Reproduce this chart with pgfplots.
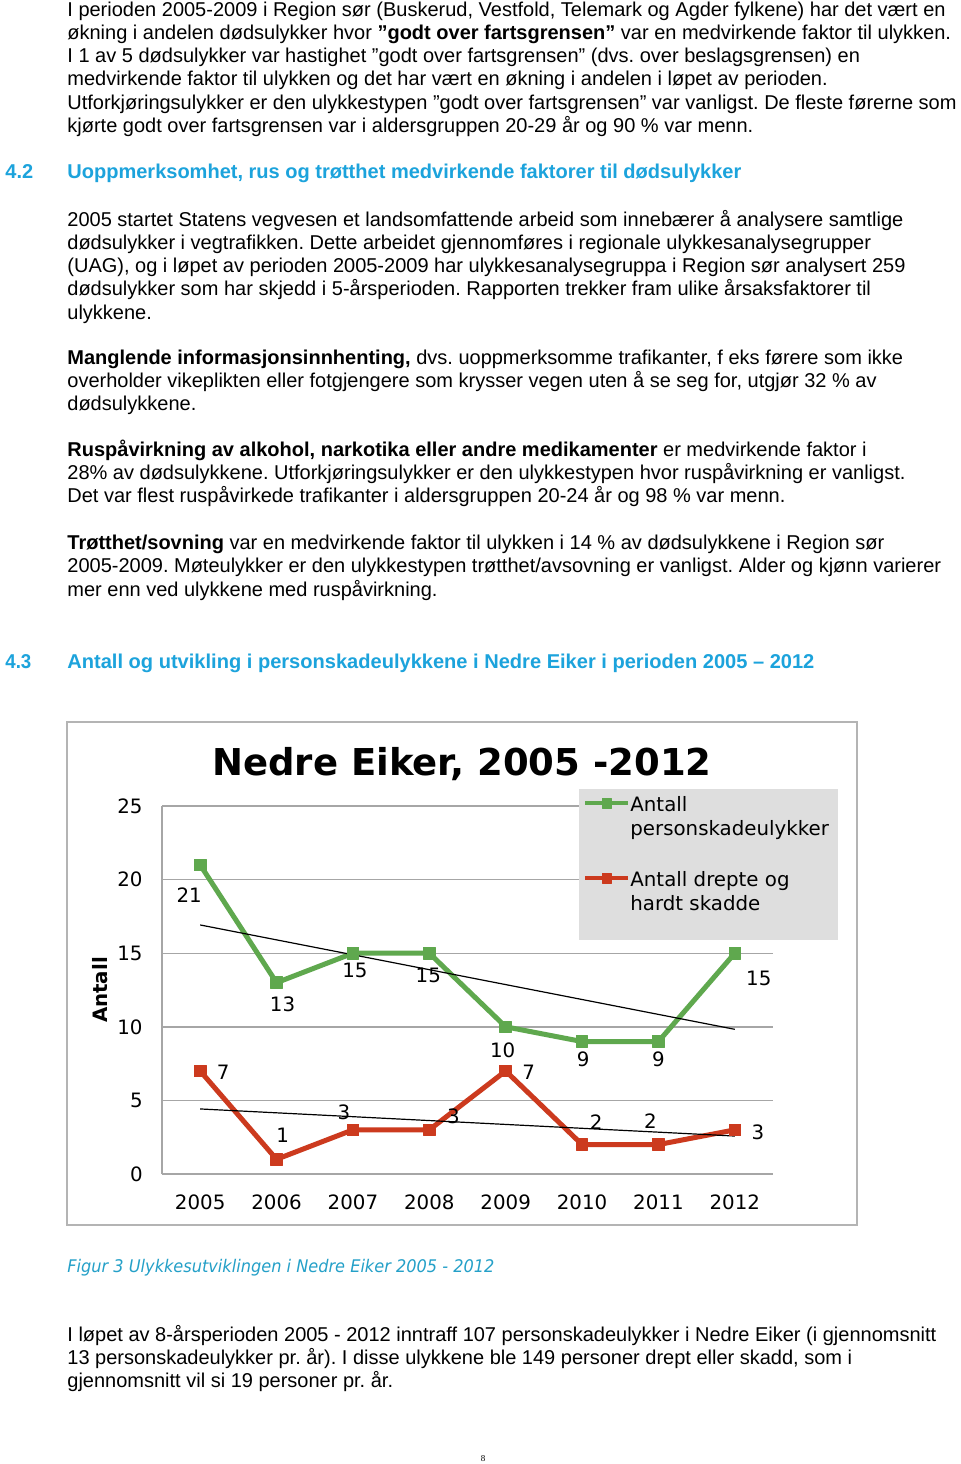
\documentclass[border=0pt]{standalone}
\usepackage{pgfplots}
\pgfplotsset{compat=1.18}
\usepackage{fontspec}
\usepackage{graphicx}
\setmainfont{Liberation Sans}
\newfontfamily\chartfont{DejaVu Sans}
\newfontfamily\serifnum{Liberation Serif}
\definecolor{headcyan}{RGB}{28,163,220}
\definecolor{capcyan}{RGB}{36,160,200}
\definecolor{sgreen}{RGB}{95,168,78}
\definecolor{sred}{RGB}{204,58,30}
\definecolor{gridgray}{RGB}{166,166,166}
\definecolor{framegray}{RGB}{180,180,180}
\definecolor{leggray}{RGB}{222,222,222}
\frenchspacing
\begin{document}
\begin{tikzpicture}
\begin{scope}[x=0.5pt,y=-0.5pt, every node/.style={inner sep=0pt, anchor=base west, font=\fontsize{10}{12}\selectfont}]
\fill[white] (0,0) rectangle (960,1464);
\node at (67,16) {I perioden 2005-2009 i Region sør (Buskerud, Vestfold, Telemark og Agder fylkene) har det vært en};
\node at (67,39.3) {økning i andelen dødsulykker hvor \textbf{”godt over fartsgrensen”} var en medvirkende faktor til ulykken.};
\node at (67,62.6) {I 1 av 5 dødsulykker var hastighet ”godt over fartsgrensen” (dvs. over beslagsgrensen) en};
\node at (67,85.9) {medvirkende faktor til ulykken og det har vært en økning i andelen i løpet av perioden.};
\node at (67,109.2) {Utforkjøringsulykker er den ulykkestypen ”godt over fartsgrensen” var vanligst. De fleste førerne som};
\node at (67,132.5) {kjørte godt over fartsgrensen var i aldersgruppen 20-29 år og 90 \% var menn.};
\node[text=headcyan] at (5,178) {\bfseries 4.2};
\node[text=headcyan] at (67,178) {\resizebox{337pt}{\height}{\bfseries Uoppmerksomhet, rus og trøtthet medvirkende faktorer til dødsulykker}};
\node at (67,226) {2005 startet Statens vegvesen et landsomfattende arbeid som innebærer å analysere samtlige};
\node at (67,249.3) {dødsulykker i vegtrafikken. Dette arbeidet gjennomføres i regionale ulykkesanalysegrupper};
\node at (67,272.6) {(UAG), og i løpet av perioden 2005-2009 har ulykkesanalysegruppa i Region sør analysert 259};
\node at (67,295.9) {dødsulykker som har skjedd i 5-årsperioden. Rapporten trekker fram ulike årsaksfaktorer til};
\node at (67,319.2) {ulykkene.};
\node at (67,364) {\textbf{Manglende informasjonsinnhenting,} dvs. uoppmerksomme trafikanter, f eks førere som ikke};
\node at (67,387.3) {overholder vikeplikten eller fotgjengere som krysser vegen uten å se seg for, utgjør 32 \% av};
\node at (67,410.6) {dødsulykkene.};
\node at (67,456) {\textbf{Ruspåvirkning av alkohol, narkotika eller andre medikamenter} er medvirkende faktor i};
\node at (67,479.3) {28\% av dødsulykkene. Utforkjøringsulykker er den ulykkestypen hvor ruspåvirkning er vanligst.};
\node at (67,502.6) {Det var flest ruspåvirkede trafikanter i aldersgruppen 20-24 år og 98 \% var menn.};
\node at (67,549) {\textbf{Trøtthet/sovning} var en medvirkende faktor til ulykken i 14 \% av dødsulykkene i Region sør};
\node at (67,572.6) {2005-2009. Møteulykker er den ulykkestypen trøtthet/avsovning er vanligst. Alder og kjønn varierer};
\node at (67,596) {mer enn ved ulykkene med ruspåvirkning.};
\node[text=headcyan] at (5,668) {\resizebox{13pt}{\height}{\bfseries 4.3}};
\node[text=headcyan] at (67,668) {\resizebox{373.5pt}{\height}{\bfseries Antall og utvikling i personskadeulykkene i Nedre Eiker i perioden 2005 – 2012}};
\node[text=capcyan] at (67,1272.5) {\resizebox{213.5pt}{\height}{\chartfont\itshape\fontsize{8.7}{10}\selectfont Figur 3 Ulykkesutviklingen i Nedre Eiker 2005 - 2012}};
\node at (67,1341) {I løpet av 8-årsperioden 2005 - 2012 inntraff 107 personskadeulykker i Nedre Eiker (i gjennomsnitt};
\node at (67,1364.3) {13 personskadeulykker pr. år). I disse ulykkene ble 149 personer drept eller skadd, som i};
\node at (67,1387.6) {gjennomsnitt vil si 19 personer pr. år.};
\node[anchor=base] at (483,1461) {\serifnum\fontsize{4.5}{5}\selectfont 8};
\draw[framegray, line width=1pt] (67,722) rectangle (857,1225);
\coordinate (org) at (162,1174);
\end{scope}
\begin{axis}[
  at={(org)}, anchor=south west, scale only axis,
  width=305.5pt, height=184pt,
  xmin=-0.5, xmax=7.5, ymin=0, ymax=25,
  xtick={0,1,2,3,4,5,6,7},
  xticklabels={2005,2006,2007,2008,2009,2010,2011,2012},
  ytick={0,5,10,15,20,25},
  axis x line=bottom, axis y line=left,
  axis line style={-, draw=gridgray, line width=0.7pt},
  ymajorgrids, grid style={draw=gridgray, line width=0.7pt},
  major tick length=0pt,
  /pgf/number format/assume math mode=true,
  tick label style={font=\chartfont\fontsize{9.9}{12}\selectfont},
  yticklabel style={anchor=east, inner sep=0pt, xshift=-9.5pt},
  xticklabel style={anchor=north, inner sep=0pt, yshift=-10pt},
  ylabel={Antall},
  every axis y label/.style={at={(axis description cs:-0.1015,0.5)}, rotate=90, anchor=center, font=\chartfont\bfseries\fontsize{9.9}{12}\selectfont},
  title={Nedre Eiker, 2005 -2012},
  title style={at={(axis description cs:0.491,1)}, anchor=base, yshift=9.5pt, font=\chartfont\bfseries\fontsize{18.5}{22}\selectfont},
  legend image code/.code={\draw[#1, line width=2pt, mark size=2.4pt, mark repeat=2, mark phase=2] plot coordinates {(0pt,4pt) (10.75pt,4pt) (21.5pt,4pt)};},
  legend style={at={(axis description cs:0.6825,1.0462)}, anchor=north west, fill=leggray, draw=none,
    inner xsep=2pt, inner ysep=2.6pt, row sep=13.5pt,
    nodes={inner sep=0pt, anchor=base west, text depth=},
    font=\chartfont\fontsize{9.9}{12}\selectfont,
    /tikz/every odd column/.append style={column sep=0pt}},
  clip=false,
]
\addplot[sgreen, line width=2.5pt, line join=round, mark=square*, mark size=2.9pt, mark options={line width=0.4pt, solid}]
  coordinates {(0,21)(1,13)(2,15)(3,15)(4,10)(5,9)(6,9)(7,15)};
\addlegendentry{\begin{tabular}[t]{@{}l@{\hspace{2.5pt}}}Antall\\personskadeulykker\end{tabular}}
\addplot[sred, line width=2.5pt, line join=round, mark=square*, mark size=2.9pt, mark options={line width=0.4pt, solid}]
  coordinates {(0,7)(1,1)(2,3)(3,3)(4,7)(5,2)(6,2)(7,3)};
\addlegendentry{\begin{tabular}[t]{@{}l@{\hspace{2.5pt}}}Antall drepte og\\hardt skadde\rule[-12.4pt]{0pt}{12.4pt}\end{tabular}}
\addplot[black, line width=0.6pt, forget plot] coordinates {(0,16.92)(7,9.83)};
\addplot[black, line width=0.6pt, forget plot] coordinates {(0,4.42)(7,2.58)};
\begin{scope}[every node/.style={font=\chartfont\fontsize{9.9}{12}\selectfont, inner sep=0pt, anchor=center}]
\node[xshift=-5.5pt, yshift=-15pt] at (axis cs:0,21) {21};
\node[xshift=3pt, yshift=-11pt] at (axis cs:1,13) {13};
\node[xshift=1pt, yshift=-8.5pt] at (axis cs:2,15) {15};
\node[xshift=-0.5pt, yshift=-11pt] at (axis cs:3,15) {15};
\node[xshift=-1.5pt, yshift=-11.5pt] at (axis cs:4,10) {10};
\node[xshift=0.5pt, yshift=-9pt] at (axis cs:5,9) {9};
\node[xshift=0pt, yshift=-9pt] at (axis cs:6,9) {9};
\node[xshift=12pt, yshift=-12.5pt] at (axis cs:7,15) {15};
\node[xshift=11.5pt, yshift=-0.5pt] at (axis cs:0,7) {7};
\node[xshift=3pt, yshift=12pt] at (axis cs:1,1) {1};
\node[xshift=-4.5pt, yshift=9pt] at (axis cs:2,3) {3};
\node[xshift=12pt, yshift=7pt] at (axis cs:3,3) {3};
\node[xshift=11.5pt, yshift=-0.5pt] at (axis cs:4,7) {7};
\node[xshift=7pt, yshift=11pt] at (axis cs:5,2) {2};
\node[xshift=-4pt, yshift=11.5pt] at (axis cs:6,2) {2};
\node[xshift=11.5pt, yshift=-1pt] at (axis cs:7,3) {3};
\end{scope}
\end{axis}
\end{tikzpicture}
\end{document}
